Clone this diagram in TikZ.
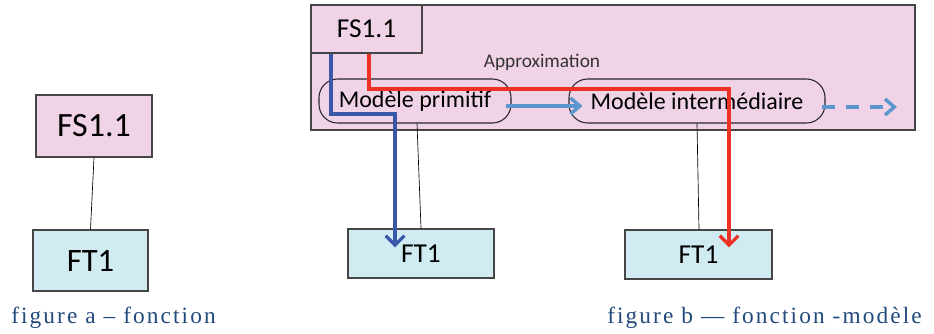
\documentclass[tikz,border=0pt]{standalone}
\usepackage{fontspec}
\setmainfont{Carlito}
\newfontfamily\capfont[LetterSpace=9]{Liberation Serif}
\usetikzlibrary{arrows.meta,calc}
\definecolor{pinkf}{RGB}{240,211,230}
\definecolor{cyanf}{RGB}{208,236,242}
\definecolor{bordc}{RGB}{70,70,70}
\definecolor{dblue}{RGB}{59,87,168}
\definecolor{lblue}{RGB}{91,150,205}
\definecolor{redc}{RGB}{236,50,38}
\definecolor{capc}{RGB}{34,74,124}
\tikzset{
  pinkbox/.style={draw=bordc,line width=1.1pt,fill=pinkf,inner sep=0pt},
  cyanbox/.style={draw=bordc,line width=1.1pt,fill=cyanf,inner sep=0pt},
  modbox/.style={draw=black!85,line width=0.8pt,rounded corners=14pt,inner sep=0pt},
  thinlink/.style={draw=black,line width=0.5pt},
  pathline/.style={line width=3pt,-{Straight Barb[length=7pt,width=14pt,line width=2.4pt]}},
  flowline/.style={line width=3pt,draw=lblue,-{Straight Barb[length=7pt,width=12pt,line width=2.6pt]}},
  captext/.style={text=capc,font=\capfont\fontsize{17.5}{20}\selectfont,anchor=base west,inner sep=0pt}
}
\begin{document}
\begin{tikzpicture}[x=0.75pt,y=-0.75pt]
\useasboundingbox (0,0) rectangle (934,333);
% figure a
\node[pinkbox,minimum width=87pt,minimum height=46.5pt,font=\fontsize{25.5}{28}\selectfont] (fsa) at (94,126) {FS1.1};
\node[cyanbox,minimum width=86.25pt,minimum height=45.75pt,font=\fontsize{24.5}{28}\selectfont] (fta) at (90.5,260.5) {FT1};
\draw[thinlink] (fsa.south) -- (fta.north);
\node[captext] (capa) at (11,323) {figure a – fonction};
% figure b
\node[pinkbox,minimum width=453pt,minimum height=93.75pt] (appr) at (613,67.5) {};
\node[pinkbox,minimum width=83.25pt,minimum height=36pt,font=\fontsize{20.5}{24}\selectfont] (fsb) at (366.5,29) {FS1.1};
\node[text=black!80,font=\fontsize{14.5}{17}\selectfont] (aptxt) at (542,62) {Approximation};
\node[modbox,minimum width=144pt,minimum height=33pt,font=\fontsize{18}{21}\selectfont] (mp) at (415,101) {\raisebox{-2pt}{Modèle primitif}};
\node[modbox,minimum width=192pt,minimum height=33pt,font=\fontsize{18}{21}\selectfont] (mi) at (697,101) {\raisebox{-3pt}{Modèle intermédiaire}};
\node[cyanbox,minimum width=109.5pt,minimum height=36.75pt,font=\fontsize{20.5}{24}\selectfont] (ftl) at (421,253.5) {\raisebox{-4pt}{FT1}};
\node[cyanbox,minimum width=110.25pt,minimum height=36.75pt,font=\fontsize{20.5}{24}\selectfont] (ftr) at (698.5,254.5) {\raisebox{-4pt}{FT1}};
\coordinate (dend) at (897,107);
% thin links
\draw[thinlink] ($(mp.south)+(2,0)$) -- (ftl.north);
\draw[thinlink] (mi.south) -- ($(ftr.north)+(0.5,0)$);
% flow arrows
\draw[flowline] ($(mp.east)+(-6,5)$) -- ($(mi.west)+(14,5)$);
\draw[flowline,dash pattern=on 10pt off 8pt] ($(mi.east)+(-4,6)$) -- (dend);
% coloured paths
\draw[pathline,draw=dblue] ($(fsb.south west)+(21,0)$) -- ++(0,60) -| ($(ftl.north)+(-26,19)$);
\draw[pathline,draw=redc] ($(fsb.south west)+(59,0)$) -- ++(0,35) -| ($(ftr.north)+(30.5,18)$);
\node[captext] (capb) at (607,323) {figure b — fonction -modèle};
\end{tikzpicture}
\end{document}
